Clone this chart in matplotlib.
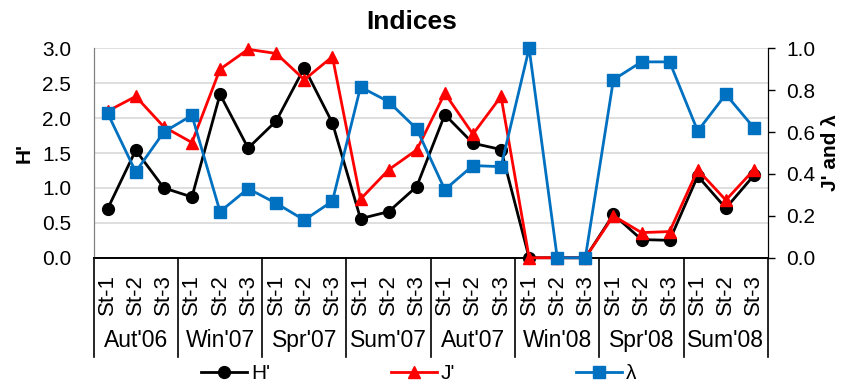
import matplotlib.pyplot as plt
from matplotlib.lines import Line2D

plt.rcParams['font.family'] = ['Liberation Sans', 'DejaVu Sans']

seasons = ["Aut'06", "Win'07", "Spr'07", "Sum'07", "Aut'07", "Win'08", "Spr'08", "Sum'08"]
stations = ["St-1", "St-2", "St-3"]

# Shannon diversity (left axis)
h_div = [0.70, 1.54, 1.00, 0.87, 2.34, 1.57, 1.96, 2.72, 1.93, 0.56, 0.66, 1.02,
         2.05, 1.64, 1.55, 0.00, 0.00, 0.00, 0.62, 0.26, 0.25, 1.17, 0.71, 1.18]
# evenness and dominance (right axis)
j_even = [0.70, 0.77, 0.625, 0.55, 0.90, 0.995, 0.975, 0.85, 0.96, 0.28, 0.42, 0.515,
          0.785, 0.59, 0.77, 0.00, 0.00, 0.00, 0.20, 0.12, 0.125, 0.42, 0.275, 0.42]
lam = [0.69, 0.41, 0.60, 0.68, 0.22, 0.33, 0.26, 0.18, 0.27, 0.815, 0.745, 0.615,
       0.325, 0.44, 0.435, 1.00, 0.00, 0.00, 0.85, 0.935, 0.935, 0.605, 0.78, 0.62]

blue = '#0070C0'
fs = 15

fig = plt.figure(figsize=(8.43, 3.83), dpi=100)
ax = fig.add_axes([0.111, 0.327, 0.8, 0.547])
ax2 = ax.twinx()

x = list(range(len(h_div)))
ax.plot(x, h_div, color='black', lw=2, marker='o', ms=8.5, clip_on=False, zorder=3)
ax2.plot(x, j_even, color='red', lw=2, marker='^', ms=9, clip_on=False, zorder=3)
ax2.plot(x, lam, color=blue, lw=2, marker='s', ms=8, clip_on=False, zorder=4)

ax.set_xlim(-0.5, len(x) - 0.5)
ax.set_ylim(0, 3)
ax2.set_ylim(0, 1)
ax.set_yticks([i * 0.5 for i in range(7)])
ax.set_yticklabels(['%.1f' % (i * 0.5) for i in range(7)], fontsize=fs)
ax2.set_yticks([i * 0.2 for i in range(6)])
ax2.set_yticklabels(['%.1f' % (i * 0.2) for i in range(6)], fontsize=fs)
ax.tick_params(axis='y', length=0, pad=16)
ax2.tick_params(axis='y', length=5, width=1, pad=8, colors='black')

ax.set_xticks(x)
ax.set_xticklabels(stations * len(seasons), rotation=90, fontsize=16, va='top')
ax.tick_params(axis='x', length=0, pad=12)

ax.grid(axis='y', color='#D9D9D9', lw=1.2)
ax.set_axisbelow(True)
for a in (ax, ax2):
    a.spines['top'].set_visible(False)
    a.spines['left'].set_color('#7F7F7F')
    a.spines['bottom'].set_color('black')
    a.spines['right'].set_color('black')
    a.spines['bottom'].set_linewidth(1.2)

# season group labels and separators under the axis
tr = ax.get_xaxis_transform()
for i, s in enumerate(seasons):
    ax.text(i * 3 + 1, -0.395, s, transform=tr, ha='center', va='center', fontsize=16.5)
for i in range(len(seasons) + 1):
    ax.add_line(Line2D([i * 3 - 0.5, i * 3 - 0.5], [0, -0.475], transform=tr,
                       color='black', lw=1.2, clip_on=False))

fig.text(0.488, 0.943, 'Indices', ha='center', va='center', fontsize=19, fontweight='bold')
ax.set_ylabel("H'", fontsize=fs, fontweight='bold', labelpad=6)
ax2.set_ylabel("J' and λ", fontsize=fs, fontweight='bold', rotation=90, labelpad=4)

handles = [
    Line2D([], [], color='black', lw=2, marker='o', ms=8.5),
    Line2D([], [], color='red', lw=2, marker='^', ms=9),
    Line2D([], [], color=blue, lw=2, marker='s', ms=8),
]
fig.legend(handles, ["H'", "J'", 'λ'], ncol=3, loc='center', bbox_to_anchor=(0.497, 0.025),
           frameon=False, fontsize=fs, handlelength=2.2, handletextpad=0.2, columnspacing=5.8)

fig.savefig('out.png', dpi=100)
